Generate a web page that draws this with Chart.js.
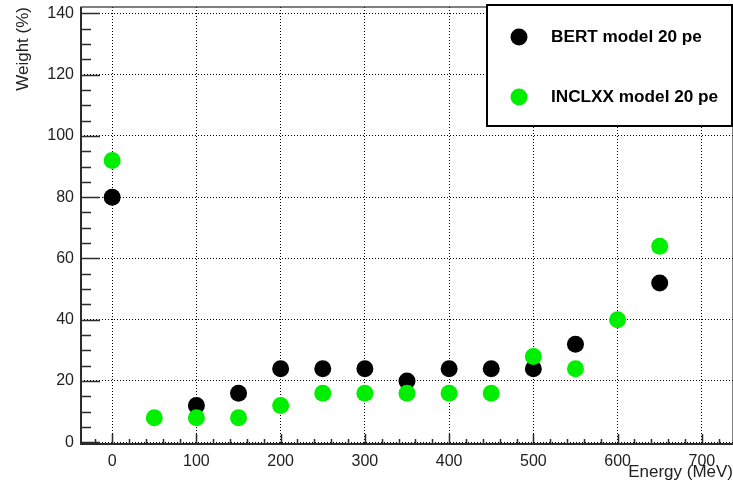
<!DOCTYPE html>
<html>
<head>
<meta charset="utf-8">
<script src="https://cdn.jsdelivr.net/npm/chart.js@4.4.0/dist/chart.umd.min.js"></script>
<style>
  html, body { margin: 0; padding: 0; background: #fff; overflow: hidden; }
  #wrap { width: 733px; height: 486px; }
</style>
</head>
<body>
<div id="wrap"><canvas id="weightChart"></canvas></div>
<script>
const energies = [0, 50, 100, 150, 200, 250, 300, 350, 400, 450, 500, 550, 600, 650];
const bertWeights = [80, null, 12, 16, 24, 24, 24, 20, 24, 24, 24, 32, null, 52];
const inclxxWeights = [92, 8, 8, 8, 12, 16, 16, 16, 16, 16, 28, 24, 40, 64];
const xTickValues = [0, 100, 200, 300, 400, 500, 600, 700];
const yTickValues = [0, 20, 40, 60, 80, 100, 120, 140];

const FONT = "'Liberation Sans', Arial, Helvetica, sans-serif";
const AXIS_COLOR = "#2b2b2b";

function toPoints(values) {
  return energies
    .map((e, i) => ({ x: e, y: values[i] }))
    .filter((p) => p.y !== null);
}

// ROOT style frame, inward ticks and boxed legend
const rootFramePlugin = {
  id: "rootFrame",
  afterDraw(chart) {
    const { ctx, chartArea: a, scales } = chart;
    const xs = scales.x;
    const ys = scales.y;

    ctx.save();
    ctx.strokeStyle = AXIS_COLOR;

    // frame
    ctx.lineWidth = 1.2;
    ctx.strokeRect(a.left, a.top, a.right - a.left, a.bottom - a.top);
    ctx.lineWidth = 2;
    ctx.beginPath();
    ctx.moveTo(a.left, a.top);
    ctx.lineTo(a.left, a.bottom);
    ctx.lineTo(a.right, a.bottom);
    ctx.stroke();

    // y ticks (major every 20, minor every 5)
    ctx.lineWidth = 1.5;
    ctx.beginPath();
    for (let v = 0; v <= 140; v += 5) {
      const y = Math.round(ys.getPixelForValue(v)) + 0.5;
      const len = v % 20 === 0 ? 19 : 10;
      ctx.moveTo(a.left, y);
      ctx.lineTo(a.left + len, y);
    }
    // x ticks (major every 100, minor every 20)
    for (let v = -20; v <= 720; v += 20) {
      const x = Math.round(xs.getPixelForValue(v)) + 0.5;
      const len = v % 100 === 0 ? 10 : 5;
      ctx.moveTo(x, a.bottom);
      ctx.lineTo(x, a.bottom - len);
    }
    ctx.stroke();

    // legend box
    const box = { left: 487, top: 5, right: 732, bottom: 126 };
    ctx.fillStyle = "#fff";
    ctx.fillRect(box.left, box.top, box.right - box.left, box.bottom - box.top);
    ctx.strokeStyle = "#000";
    ctx.lineWidth = 2;
    ctx.strokeRect(box.left, box.top, box.right - box.left, box.bottom - box.top);

    const rowsY = [37, 97];
    chart.data.datasets.forEach((ds, i) => {
      ctx.fillStyle = ds.backgroundColor;
      ctx.beginPath();
      ctx.arc(519, rowsY[i], 8.5, 0, Math.PI * 2);
      ctx.fill();
      ctx.fillStyle = "#000";
      ctx.font = "bold 17.2px " + FONT;
      ctx.textAlign = "left";
      ctx.textBaseline = "middle";
      ctx.fillText(ds.label, 551, rowsY[i]);
    });
    ctx.restore();
  },
};

const ctx = document.getElementById("weightChart");

new Chart(ctx, {
  type: "scatter",
  data: {
    datasets: [
      {
        label: "BERT model 20 pe",
        data: toPoints(bertWeights),
        backgroundColor: "#000000",
        pointRadius: 8.5,
        pointBorderWidth: 0,
        order: 1,
      },
      {
        label: "INCLXX model 20 pe",
        data: toPoints(inclxxWeights),
        backgroundColor: "#00ee00",
        pointRadius: 8.5,
        pointBorderWidth: 0,
        order: 0,
      },
    ],
  },
  options: {
    responsive: true,
    maintainAspectRatio: false,
    animation: false,
    devicePixelRatio: 1,
    layout: {
      autoPadding: false,
      padding: { top: 7, right: 0, left: 0, bottom: 0 },
    },
    plugins: {
      legend: { display: false },
      tooltip: { enabled: false },
    },
    scales: {
      x: {
        type: "linear",
        min: -37,
        max: 737,
        afterBuildTicks: (scale) => {
          scale.ticks = xTickValues.map((v) => ({ value: v }));
        },
        afterFit: (scale) => {
          scale.height = 42;
          scale.paddingLeft = 0;
          scale.paddingRight = 0;
        },
        grid: { color: "#000", lineWidth: 1, drawTicks: false },
        border: { display: false, dash: [1, 2] },
        ticks: {
          color: "#222",
          font: { family: FONT, size: 16 },
          padding: 8,
          maxRotation: 0,
          autoSkip: false,
        },
        title: {
          display: true,
          text: "Energy (MeV)",
          align: "end",
          color: "#222",
          font: { family: FONT, size: 17 },
          padding: { top: 0, bottom: 3 },
        },
      },
      y: {
        type: "linear",
        min: -0.6,
        max: 142.1,
        afterBuildTicks: (scale) => {
          scale.ticks = yTickValues.map((v) => ({ value: v }));
        },
        afterFit: (scale) => {
          scale.width = 81;
          scale.paddingTop = 0;
          scale.paddingBottom = 0;
        },
        grid: { color: "#000", lineWidth: 1, drawTicks: false },
        border: { display: false, dash: [1, 2] },
        ticks: {
          color: "#222",
          font: { family: FONT, size: 16 },
          padding: 7,
          autoSkip: false,
        },
        title: {
          display: true,
          text: "Weight (%)",
          align: "end",
          color: "#222",
          font: { family: FONT, size: 17 },
          padding: { top: 13, bottom: 0 },
        },
      },
    },
  },
  plugins: [rootFramePlugin],
});
</script>
</body>
</html>
